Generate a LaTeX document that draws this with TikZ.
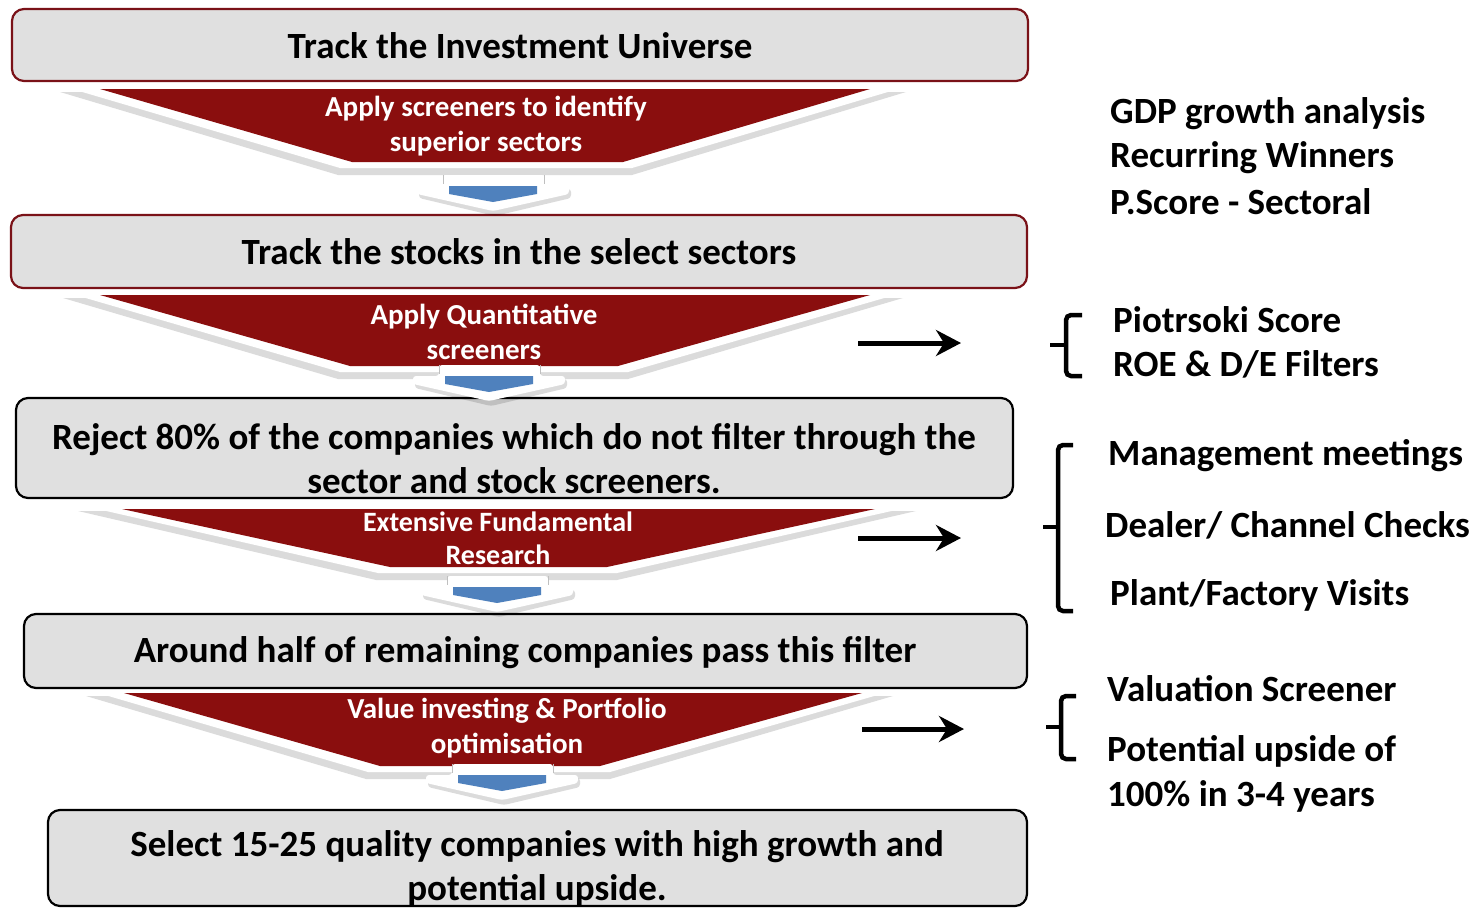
\documentclass[tikz,border=0pt]{standalone}
\usepackage{fontspec}
\setmainfont{Carlito}
\usetikzlibrary{arrows.meta}
\definecolor{fred}{RGB}{138,14,14}
\definecolor{bfill}{RGB}{224,224,224}
\definecolor{bred}{RGB}{122,18,24}
\definecolor{ablue}{RGB}{79,129,189}
\begin{document}
\begin{tikzpicture}[x=1pt,y=-1pt,
  boxshape/.style={line width=2.2pt, rounded corners=12pt, fill=bfill},
  boxtxt/.style={font=\fontsize{37}{44}\selectfont\bfseries, align=center, inner sep=0pt},
  ftxt/.style={font=\fontsize{29}{35}\selectfont\bfseries, text=white, align=center, inner sep=0pt},
  side/.style={font=\fontsize{37}{44}\selectfont\bfseries, anchor=west, inner sep=0pt},
  conn/.style={line width=5pt, -{Stealth[length=25pt,width=26pt,inset=8pt]}},
  bracepath/.style={line width=4.5pt, rounded corners=5pt},
  fshadow/.style={fill=black, opacity=0.14},
  fwhite/.style={fill=white},
  fredshape/.style={fill=fred},
  bluearrow/.style={fill=ablue},
]
\useasboundingbox (0,0) rectangle (1479,908);

% ---------- boxes ----------
\draw[boxshape, draw=bred] (12,9) rectangle (1028,81);
\node[boxtxt] (t1) at (520,46) {Track the Investment Universe};

\draw[boxshape, draw=bred] (11,215) rectangle (1027,288);
\node[boxtxt] (t2) at (519,252) {Track the stocks in the select sectors};

\draw[boxshape, draw=black] (16,398) rectangle (1013,498);
\node[boxtxt] (t3) at (514,459) {Reject 80\% of the companies which do not filter through the\\sector and stock screeners.};

\draw[boxshape, draw=black] (24,614) rectangle (1027,688);
\node[boxtxt] (t4) at (525,653) {Around half of remaining companies pass this filter};

\draw[boxshape, draw=black] (48,810) rectangle (1027,906);
\node[boxtxt] (t5) at (537,868) {Select 15-25 quality companies with high growth and\\potential upside.};

% ---------- funnels ----------
% funnel 1
\fill[fshadow] (60,92) -- (906,92) -- (632,175) -- (338,175) -- cycle;
\fill[fwhite] (62,86) -- (908,86) -- (632,168) -- (340,168) -- cycle;
\fill[fredshape] (100,89) -- (870,89) -- (623,162) -- (352,162) -- cycle;
\node[ftxt] (f1) at (486,126.5) {Apply screeners to identify\\superior sectors};

% funnel 2
\fill[fshadow] (63,298) -- (903,298) -- (628,379) -- (338,379) -- cycle;
\fill[fwhite] (65,292) -- (905,292) -- (628,372) -- (340,372) -- cycle;
\fill[fredshape] (100,295) -- (870,295) -- (618,366) -- (350,366) -- cycle;
\node[ftxt] (f2) at (484,332) {Apply Quantitative\\screeners};

% funnel 3
\fill[fshadow] (78,511) -- (916,511) -- (617,580) -- (376,580) -- cycle;
\fill[fwhite] (80,505) -- (918,505) -- (617,573) -- (378,573) -- cycle;
\fill[fredshape] (122,509) -- (875,509) -- (607,567) -- (390,567) -- cycle;
\node[ftxt, font=\fontsize{28}{33}\selectfont\bfseries] (f3) at (498,538) {Extensive Fundamental\\Research};

% funnel 4
\fill[fshadow] (86,696) -- (893,696) -- (610,779) -- (366,779) -- cycle;
\fill[fwhite] (88,690) -- (895,690) -- (610,772) -- (368,772) -- cycle;
\fill[fredshape] (124,693) -- (862,693) -- (600,766) -- (380,766) -- cycle;
\node[ftxt] (f4) at (507,728.5) {Value investing \& Portfolio\\optimisation};

% ---------- small down arrows ----------
\foreach \cx/\yb in {493/186, 489/376, 497/587, 502/775}{
  \fill[fshadow, rounded corners=3pt] (\cx-74,\yb+3) -- (\cx+78,\yb+3) -- (\cx+78,\yb+12) -- (\cx+2,\yb+30) -- (\cx-74,\yb+12) -- cycle;
  \fill[fwhite, rounded corners=3pt] (\cx-50,\yb-11) -- (\cx+51,\yb-11) -- (\cx+51,\yb) -- (\cx+76,\yb) -- (\cx+76,\yb+8) -- (\cx,\yb+25) -- (\cx-76,\yb+8) -- (\cx-76,\yb) -- (\cx-50,\yb) -- cycle;
  \draw[black!25, line width=0.8pt] (\cx-50,\yb-11) -- (\cx-50,\yb-2) (\cx+51,\yb-11) -- (\cx+51,\yb-2);
  \fill[bluearrow] (\cx-44,\yb) -- (\cx+44,\yb) -- (\cx+44,\yb+8) -- (\cx,\yb+16) -- (\cx-44,\yb+8) -- cycle;
}

% ---------- right arrows ----------
\coordinate (a2s) at (858,343); \coordinate (a2e) at (961,343);
\coordinate (a3s) at (858,538); \coordinate (a3e) at (961,538);
\coordinate (a4s) at (862,729); \coordinate (a4e) at (964,729);
\draw[conn] (a2s) -- (a2e);
\draw[conn] (a3s) -- (a3e);
\draw[conn] (a4s) -- (a4e);

% ---------- braces ----------
\draw[bracepath] (1082,315) -- (1066,315) -- (1066,376) -- (1082,376);
\draw[line width=4.5pt] (1066,345) -- (1050,345);
\draw[bracepath] (1073,445) -- (1058,445) -- (1058,611) -- (1073,611);
\draw[line width=4.5pt] (1058,527) -- (1043,527);
\draw[bracepath] (1076,696) -- (1061,696) -- (1061,759) -- (1076,759);
\draw[line width=4.5pt] (1061,727) -- (1046,727);

% ---------- side texts ----------
\node[side] (s1) at (1110,114) {GDP growth analysis};
\node[side] (s2) at (1110,158) {Recurring Winners};
\node[side] (s3) at (1110,202) {P.Score - Sectoral};
\node[side] (s4) at (1113,320) {Piotrsoki Score};
\node[side] (s5) at (1113,364) {ROE \& D/E Filters};
\node[side] (s6) at (1108,456) {Management meetings};
\node[side] (s7) at (1105,525) {Dealer/ Channel Checks};
\node[side] (s8) at (1110,595) {Plant/Factory Visits};
\node[side] (s9) at (1107,689) {Valuation Screener};
\node[side] (s10) at (1107,751) {Potential upside of};
\node[side] (s11) at (1107,796) {100\% in 3-4 years};
\end{tikzpicture}
\end{document}
